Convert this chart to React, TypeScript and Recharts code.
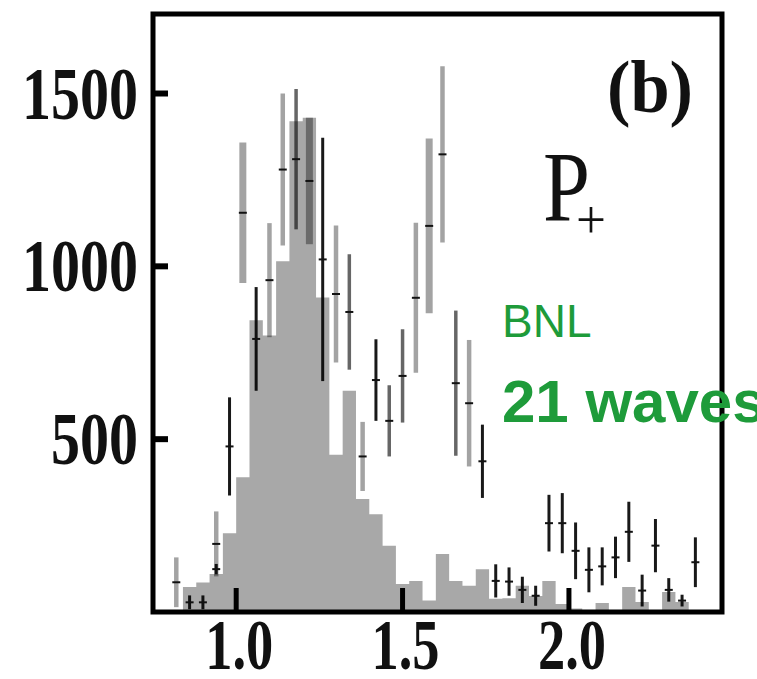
import React from 'react';
import { ComposedChart, Area, Scatter, ErrorBar, XAxis, YAxis, ReferenceArea } from 'recharts';

// histogram: left bin edges and counts
const histEdges = [0.84, 0.88, 0.92, 0.96, 1.0, 1.04, 1.08, 1.12, 1.16, 1.2, 1.24, 1.28, 1.32, 1.36, 1.4, 1.44, 1.48, 1.52, 1.56, 1.6, 1.64, 1.68, 1.72, 1.76, 1.8, 1.84, 1.88, 1.92, 1.96, 2.0, 2.04, 2.08, 2.12, 2.16, 2.2, 2.24, 2.28, 2.32, 2.36, 2.4, 2.44];
const histCounts = [72, 85, 110, 228, 390, 844, 800, 1015, 1420, 1430, 910, 455, 640, 327, 283, 192, 81, 90, 33, 168, 90, 76, 124, 38, 40, 76, 46, 90, 23, 10, 5, 26, 5, 72, 29, 5, 58, 29, 5, 0, 0];

// light gray points
const lightX = [0.82, 0.94, 1.1, 1.14, 1.3, 1.38, 1.54, 1.62, 1.7];
const lightY = [86, 197, 960, 1280, 920, 450, 909, 1324, 604];
const lightErr = [72, 94, 165, 220, 198, 100, 217, 255, 183];

// wide gray points
const wideX = [1.02, 1.22, 1.58];
const wideY = [1155, 1247, 1117];
const wideErr = [203, 183, 253];

// mid gray points
const midX = [1.18, 1.34, 1.46, 1.5, 1.66];
const midY = [1310, 868, 553, 683, 662];
const midErr = [203, 167, 103, 135, 210];

// black points
const darkX = [0.86, 0.9, 0.94, 0.98, 1.06, 1.26, 1.42, 1.74, 1.78, 1.82, 1.86, 1.9, 1.94, 1.98, 2.02, 2.06, 2.1, 2.14, 2.18, 2.22, 2.26, 2.3, 2.34, 2.38];
const darkY = [28, 28, 124, 479, 790, 1020, 671, 436, 90, 88, 64, 47, 257, 257, 177, 122, 132, 158, 232, 62, 192, 64, 33, 144];
const darkErr = [20, 20, 15, 142, 150, 352, 118, 106, 48, 41, 38, 29, 82, 87, 82, 65, 55, 60, 87, 46, 77, 34, 17, 72];

const xTicks = [1.0, 1.5, 2.0];
const yTicks = [500, 1000, 1500];

const histData = histEdges.map((x, i) => ({ x, count: histCounts[i] }));
const pts = (xs: number[], ys: number[], es: number[]) => xs.map((x, i) => ({ x, y: ys[i], err: es[i] }));

const labelFont = '"Liberation Serif", "Times New Roman", serif';
const green = '#1e9b3a';

const Dash = (props: any) => {
  const { cx, cy } = props;
  if (cx == null || cy == null) return <g />;
  return <line x1={cx - 4} x2={cx + 4} y1={cy} y2={cy} stroke="#111" strokeWidth={2} />;
};

const XTick = (props: any) => {
  const { x, y, payload } = props;
  return (
    <g>
      <line x1={x} x2={x} y1={y} y2={y - 24} stroke="#000" strokeWidth={5} />
      <text x={x + 3} y={y + 57} textAnchor="middle" fontFamily={labelFont} fontWeight="bold" fontSize={72}
        fill="#111" textLength={68} lengthAdjust="spacingAndGlyphs">
        {Number(payload.value).toFixed(1)}
      </text>
    </g>
  );
};

const YTick = (props: any) => {
  const { x, y, payload } = props;
  const s = String(payload.value);
  return (
    <g>
      <line x1={x} x2={x + 15} y1={y} y2={y} stroke="#000" strokeWidth={6} />
      <text x={x - 15} y={y + 25} textAnchor="end" fontFamily={labelFont} fontWeight="bold" fontSize={75}
        fill="#111" textLength={s.length * 29} lengthAdjust="spacingAndGlyphs">
        {s}
      </text>
    </g>
  );
};

export default function App() {
  return (
    <div style={{ position: 'absolute', left: 0, top: 0, width: 757, height: 679, overflow: 'hidden', background: '#fff' }}>
      <ComposedChart width={757} height={679} margin={{ top: 14, right: 35, bottom: 0, left: 0 }}>
        <XAxis type="number" dataKey="x" domain={[0.75, 2.46]} ticks={xTicks} allowDataOverflow
          axisLine={false} tickLine={false} tickSize={0} tickMargin={0} height={67} tick={XTick} />
        <YAxis type="number" domain={[0, 1730]} ticks={yTicks} allowDataOverflow
          axisLine={false} tickLine={false} tickSize={0} tickMargin={0} width={153} tick={YTick} />
        <Area data={histData} dataKey="count" type="stepAfter" stroke="none" fill="#a8a8a8" fillOpacity={1}
          baseValue={0} isAnimationActive={false} dot={false} activeDot={false} />
        <Scatter data={pts(lightX, lightY, lightErr)} dataKey="y" shape={Dash} isAnimationActive={false}>
          <ErrorBar dataKey="err" direction="y" width={0} stroke="#000" strokeOpacity={0.36} strokeWidth={4.5} />
        </Scatter>
        <Scatter data={pts(wideX, wideY, wideErr)} dataKey="y" shape={Dash} isAnimationActive={false}>
          <ErrorBar dataKey="err" direction="y" width={0} stroke="#000" strokeOpacity={0.36} strokeWidth={7} />
        </Scatter>
        <Scatter data={pts(midX, midY, midErr)} dataKey="y" shape={Dash} isAnimationActive={false}>
          <ErrorBar dataKey="err" direction="y" width={0} stroke="#000" strokeOpacity={0.6} strokeWidth={3.5} />
        </Scatter>
        <Scatter data={pts(darkX, darkY, darkErr)} dataKey="y" shape={Dash} isAnimationActive={false}>
          <ErrorBar dataKey="err" direction="y" width={0} stroke="#000" strokeOpacity={0.9} strokeWidth={3} />
        </Scatter>
        <ReferenceArea x1={0.75} x2={2.46} y1={0} y2={1730} fill="none" stroke="#000" strokeWidth={5} ifOverflow="visible" />
      </ComposedChart>
      <svg width={757} height={679} style={{ position: 'absolute', left: 0, top: 0, pointerEvents: 'none' }}>
        <text x={607} y={112} fontFamily={labelFont} fontWeight="bold" fontSize={74} fill="#111"
          textLength={86} lengthAdjust="spacingAndGlyphs">(b)</text>
        <text x={543} y={220} fontFamily={labelFont} fontSize={100} fill="#111"
          textLength={47} lengthAdjust="spacingAndGlyphs">P</text>
        <text x={576} y={238} fontFamily={labelFont} fontSize={54} fill="#111"
          textLength={30} lengthAdjust="spacingAndGlyphs">+</text>
        <text x={502} y={337} fontFamily='"Liberation Sans", Arial, sans-serif' fontSize={46} fill={green}>BNL</text>
        <text x={502} y={422} fontFamily='"Liberation Sans", Arial, sans-serif' fontWeight="bold" fontSize={60} fill={green}>21 waves</text>
      </svg>
    </div>
  );
}
